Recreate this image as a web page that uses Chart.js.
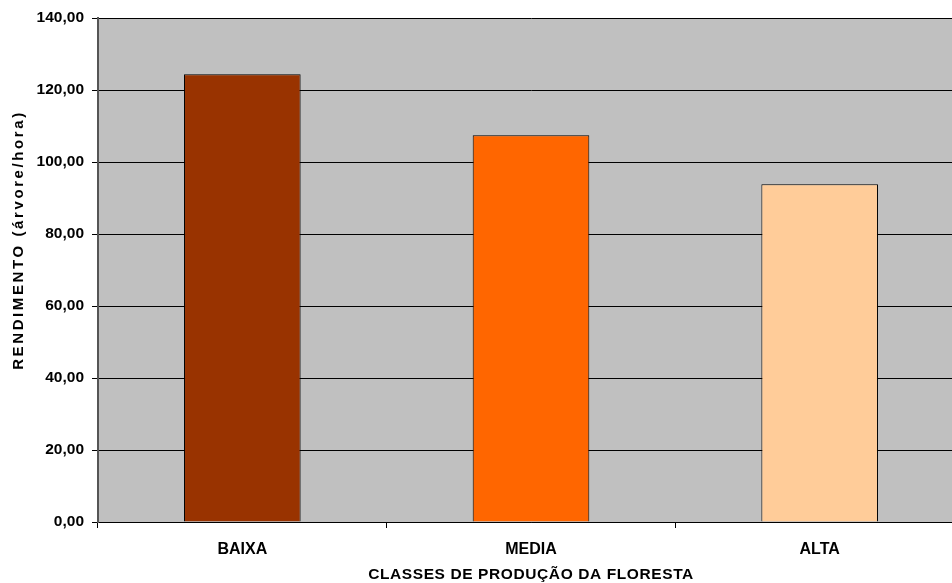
<!DOCTYPE html>
<html>
<head>
<meta charset="utf-8">
<script src="https://cdn.jsdelivr.net/npm/chart.js@4/dist/chart.umd.min.js"></script>
<style>
  html, body { margin: 0; padding: 0; background: #ffffff; overflow: hidden; }
  #wrap { width: 964px; height: 583px; position: relative; }
</style>
</head>
<body>
<div id="wrap"><canvas id="chart" width="964" height="583"></canvas></div>
<script>
// Production classes of the forest and harvesting yield (trees per hour)
const categories = ['BAIXA', 'MEDIA', 'ALTA'];
const rendimento = [124.4, 107.4, 93.8];
const barColors = ['#993300', '#FF6600', '#FFCC99'];
const yTicks = [0, 20, 40, 60, 80, 100, 120, 140];

const FONT = '"Liberation Sans", Arial, sans-serif';

// grey plot-area background
const plotBackground = {
  id: 'plotBackground',
  beforeDraw(chart) {
    const { ctx, chartArea: a } = chart;
    ctx.save();
    ctx.fillStyle = '#C0C0C0';
    ctx.fillRect(a.left, a.top, a.right - a.left, a.bottom - a.top);
    ctx.restore();
  }
};

// wider letter spacing and a small shift for the axis titles
const titleStyle = {
  id: 'titleStyle',
  afterLayout(chart) {
    const cfg = { x: { spacing: '0.6px', dx: 0, dy: 3 }, y: { spacing: '2.6px', dx: 2, dy: -30 } };
    Object.keys(cfg).forEach(id => {
      const scale = chart.scales[id];
      if (!scale || scale._titleWrapped) return;
      const orig = scale.drawTitle;
      scale.drawTitle = function () {
        const ctx = this.ctx;
        ctx.save();
        ctx.letterSpacing = cfg[id].spacing;
        ctx.translate(cfg[id].dx, cfg[id].dy);
        orig.apply(this, arguments);
        ctx.restore();
      };
      scale._titleWrapped = true;
    });
  }
};

new Chart(document.getElementById('chart'), {
  type: 'bar',
  data: {
    labels: categories,
    datasets: [{
      data: rendimento,
      backgroundColor: barColors,
      borderColor: '#000000',
      borderWidth: 1,
      barPercentage: 0.8,
      categoryPercentage: 0.505
    }]
  },
  options: {
    responsive: false,
    animation: false,
    layout: { padding: { top: 18, right: 0, left: 0, bottom: 0 } },
    plugins: {
      legend: { display: false },
      tooltip: { enabled: false }
    },
    scales: {
      x: {
        afterFit(scale) { scale.height = 61; },
        grid: {
          offset: true,
          drawOnChartArea: false,
          drawTicks: true,
          tickLength: 6,
          color: '#000000'
        },
        border: { color: '#000000', width: 1 },
        ticks: {
          color: '#000000',
          padding: 12,
          font: { family: FONT, size: 16, weight: 'bold' }
        },
        title: {
          display: true,
          text: 'CLASSES DE PRODUÇÃO DA FLORESTA',
          color: '#000000',
          padding: { top: 0, bottom: 2 },
          font: { family: FONT, size: 15.5, weight: 'bold' }
        }
      },
      y: {
        min: 0,
        max: 140,
        afterFit(scale) { scale.width = 98; },
        afterBuildTicks(scale) { scale.ticks = yTicks.map(v => ({ value: v })); },
        grid: {
          color: '#000000',
          lineWidth: 1,
          tickLength: 6
        },
        border: { color: '#555555', width: 2 },
        ticks: {
          color: '#000000',
          padding: 8,
          font: { family: FONT, size: 15.5, weight: 'bold' },
          callback: v => v.toFixed(2).replace('.', ',')
        },
        title: {
          display: true,
          text: 'RENDIMENTO (árvore/hora)',
          color: '#000000',
          padding: { top: 8, bottom: 0 },
          font: { family: FONT, size: 15, weight: 'bold' }
        }
      }
    }
  },
  plugins: [plotBackground, titleStyle]
});
</script>
</body>
</html>
